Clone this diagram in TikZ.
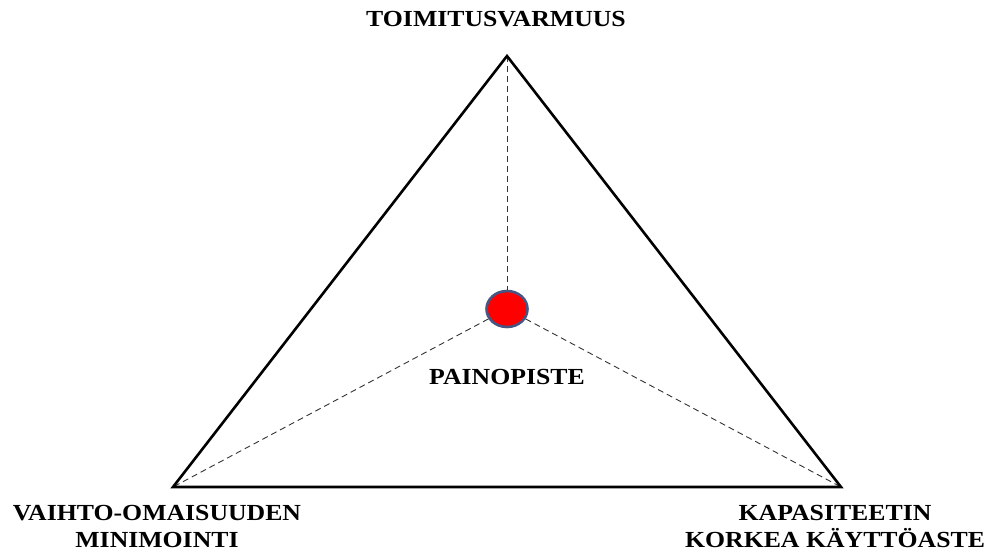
\documentclass[tikz,border=0pt]{standalone}
\usepackage{fontspec}
\setmainfont{Liberation Serif}
\usetikzlibrary{shapes.geometric}
\definecolor{dotrim}{RGB}{70,85,130}
\tikzset{
  label text/.style={font=\bfseries\fontsize{23}{27}\selectfont, align=center, inner sep=0pt, xscale=1.12},
  guide/.style={dash pattern=on 6pt off 4pt, line width=0.9pt, black!80},
  side/.style={line width=2.6pt, line join=miter}
}
\begin{document}
\begin{tikzpicture}[x=1pt,y=-1pt]
\useasboundingbox (0,0) rectangle (987,554);

% corners of the triangle
\coordinate (top) at (507,56);
\coordinate (left) at (173,487);
\coordinate (right) at (841,487);

% centre point
\node[ellipse, draw=dotrim, line width=1.6pt, fill=red,
      minimum width=42pt, minimum height=37pt, inner sep=0pt] (dot) at (507,309) {};

% guides from the centre
\draw[guide] (top) -- (dot.north);
\draw[guide] (dot) -- (left);
\draw[guide] (dot) -- (right);
\fill[red] (dot.center) ellipse (19.2pt and 16.7pt);
\draw[dotrim, line width=1.6pt] (dot.center) ellipse (20pt and 17.5pt);

% triangle
\draw[side] (top) -- (right) -- (left) -- cycle;

% labels
\node[label text, anchor=base] (goal) at (496,27) {TOIMITUSVARMUUS};
\node[label text, anchor=base] (centre) at (507,384) {PAINOPISTE};
\node[label text] (stock) at (157,526) {VAIHTO-OMAISUUDEN\\MINIMOINTI};
\node[label text] (capacity) at (835,526) {KAPASITEETIN\\KORKEA KÄYTTÖASTE};

\end{tikzpicture}
\end{document}
